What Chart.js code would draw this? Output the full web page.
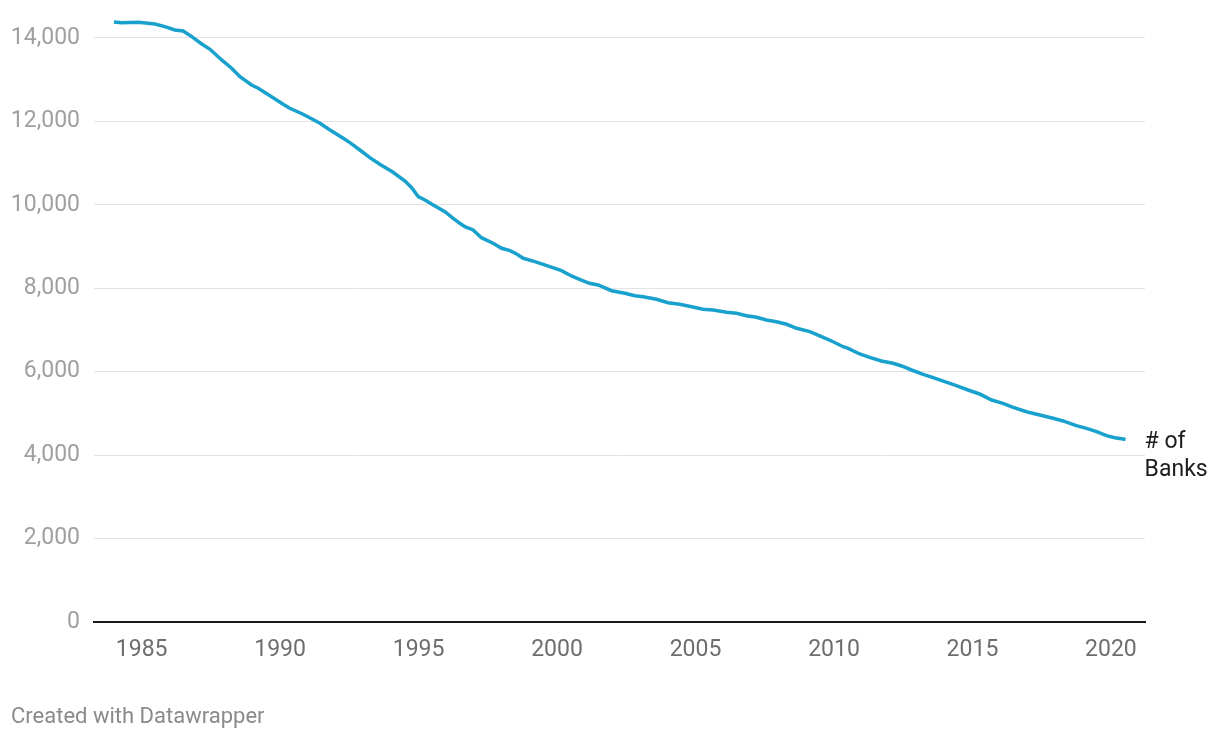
<!DOCTYPE html>
<html>
<head>
<meta charset="utf-8">
<script src="https://cdn.jsdelivr.net/npm/chart.js@4/dist/chart.umd.min.js"></script>
<style>
  html, body { margin: 0; padding: 0; background: #ffffff; }
  #wrap { position: relative; width: 1220px; height: 738px; }
  #footer { position: absolute; left: 11px; top: 703px; font-family: Roboto, sans-serif; font-size: 22px; color: #8a8a8a; }
</style>
</head>
<body>
<div id="wrap">
  <canvas id="c" width="1220" height="738"></canvas>
  <div id="footer">Created with Datawrapper</div>
</div>
<script>
// Decimal year positions of the readings
const years = [
  1984.00, 1984.28, 1984.88, 1985.48, 1985.84, 1986.20, 1986.50, 1986.81,
  1987.17, 1987.47, 1987.89, 1988.25, 1988.55, 1988.97, 1989.21, 1989.69,
  1990.11, 1990.35, 1990.83, 1991.44, 1991.80, 1992.28, 1992.52, 1992.88,
  1993.24, 1993.60, 1994.08, 1994.51, 1994.75, 1994.99, 1995.23, 1995.53,
  1995.95, 1996.25, 1996.49, 1996.67, 1996.97, 1997.27, 1997.69, 1998.00,
  1998.30, 1998.54, 1998.78, 1999.20, 1999.74, 2000.16, 2000.52, 2000.81,
  2001.17, 2001.48, 2001.97, 2002.45, 2002.81, 2003.11, 2003.59, 2004.01,
  2004.43, 2004.86, 2005.27, 2005.64, 2006.12, 2006.48, 2006.84, 2007.20,
  2007.56, 2007.92, 2008.29, 2008.65, 2009.13, 2009.55, 2009.97, 2010.33,
  2010.51, 2010.93, 2011.29, 2011.71, 2012.13, 2012.44, 2012.80, 2013.22,
  2013.58, 2014.00, 2014.42, 2014.84, 2015.26, 2015.69, 2016.10, 2016.47,
  2016.95, 2017.43, 2017.91, 2018.27, 2018.75, 2019.12, 2019.48, 2019.84,
  2020.14, 2020.44, 2020.53
];
// Number of banks
const banks = [
  14384, 14367, 14376, 14336, 14272, 14192, 14168, 14032,
  13856, 13729, 13473, 13274, 13073, 12874, 12794, 12593,
  12411, 12315, 12171, 11955, 11795, 11596, 11491, 11315,
  11131, 10973, 10781, 10572, 10412, 10196, 10117, 9997,
  9836, 9678, 9558, 9477, 9397, 9213, 9079, 8959,
  8901, 8822, 8719, 8638, 8518, 8422, 8295, 8216,
  8120, 8079, 7942, 7880, 7822, 7799, 7736, 7655,
  7616, 7559, 7496, 7480, 7424, 7400, 7343, 7305,
  7240, 7199, 7137, 7041, 6960, 6839, 6719, 6599,
  6561, 6425, 6345, 6257, 6202, 6137, 6041, 5938,
  5857, 5761, 5665, 5562, 5466, 5322, 5243, 5147,
  5041, 4962, 4883, 4819, 4706, 4643, 4562, 4466,
  4418, 4387, 4375
];
const xTicks = [1985, 1990, 1995, 2000, 2005, 2010, 2015, 2020];
const yTicks = [0, 2000, 4000, 6000, 8000, 10000, 12000, 14000];
const seriesLabel = ['# of', 'Banks'];

const endLabel = {
  id: 'endLabel',
  afterDatasetsDraw(chart) {
    const meta = chart.getDatasetMeta(0);
    const last = meta.data[meta.data.length - 1];
    const ctx = chart.ctx;
    ctx.save();
    ctx.font = '23px Roboto, sans-serif';
    ctx.fillStyle = '#1d1d1d';
    ctx.textAlign = 'left';
    ctx.textBaseline = 'middle';
    seriesLabel.forEach((t, i) => ctx.fillText(t, last.x + 19, last.y + 3 + i * 28));
    ctx.restore();
  }
};

new Chart(document.getElementById('c'), {
  type: 'line',
  data: {
    datasets: [{
      data: years.map((y, i) => ({ x: y, y: banks[i] })),
      borderColor: '#18a1cd',
      borderWidth: 3.5,
      pointRadius: 0,
      tension: 0,
      fill: false
    }]
  },
  options: {
    responsive: false,
    animation: false,
    devicePixelRatio: 1,
    layout: { padding: { left: 0, right: 75, top: 18, bottom: 0 } },
    plugins: { legend: { display: false }, tooltip: { enabled: false } },
    scales: {
      x: {
        type: 'linear',
        min: 1983.28,
        max: 2021.23,
        afterBuildTicks: s => { s.ticks = xTicks.map(v => ({ value: v })); },
        afterFit: s => { s.height = 116; s.paddingLeft = 0; s.paddingRight = 0; },
        grid: { display: false },
        border: { display: true, color: '#1a1a1a', width: 2 },
        ticks: {
          autoSkip: false, maxRotation: 0, padding: 6,
          color: '#6e6e6e',
          font: { family: 'Roboto, sans-serif', size: 23 },
          callback: v => String(v)
        }
      },
      y: {
        min: 0,
        max: 14479,
        afterBuildTicks: s => { s.ticks = yTicks.map(v => ({ value: v })); },
        afterFit: s => { s.width = 94; s.paddingTop = 0; s.paddingBottom = 0; },
        border: { display: false },
        grid: {
          drawTicks: false,
          lineWidth: 1,
          color: c => (c.tick && c.tick.value === 0) ? 'rgba(0,0,0,0)' : '#e3e3e3'
        },
        ticks: {
          padding: 14,
          color: '#a0a0a0',
          font: { family: 'Roboto, sans-serif', size: 23 },
          callback: v => v.toLocaleString('en-US')
        }
      }
    }
  },
  plugins: [endLabel]
});
</script>
</body>
</html>
